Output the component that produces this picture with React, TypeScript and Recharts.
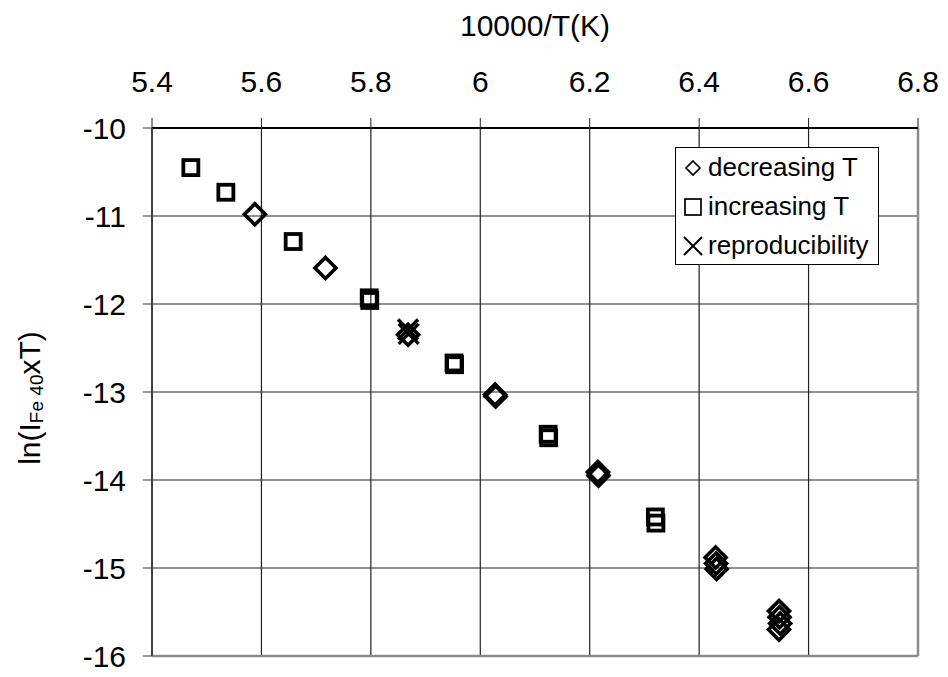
import { ScatterChart, Scatter, XAxis, YAxis, CartesianGrid, ReferenceLine, Legend, Label } from "recharts";

const font = "'Liberation Sans', Arial, sans-serif";

const xTicks = [5.4, 5.6, 5.8, 6, 6.2, 6.4, 6.6, 6.8];
const yTicks = [-16, -15, -14, -13, -12, -11, -10];

// decreasing T (diamonds)
const decreasing = [
  { x: 5.588, y: -10.98 },
  { x: 5.717, y: -11.59 },
  { x: 5.868, y: -12.35 },
  { x: 6.027, y: -13.03 },
  { x: 6.028, y: -13.05 },
  { x: 6.215, y: -13.91 },
  { x: 6.216, y: -13.95 },
  { x: 6.43, y: -14.88 },
  { x: 6.431, y: -14.95 },
  { x: 6.432, y: -15.01 },
  { x: 6.546, y: -15.49 },
  { x: 6.547, y: -15.56 },
  { x: 6.548, y: -15.63 },
  { x: 6.546, y: -15.7 },
];

// increasing T (squares)
const increasing = [
  { x: 5.471, y: -10.45 },
  { x: 5.535, y: -10.73 },
  { x: 5.658, y: -11.29 },
  { x: 5.797, y: -11.93 },
  { x: 5.798, y: -11.96 },
  { x: 5.952, y: -12.67 },
  { x: 5.953, y: -12.69 },
  { x: 6.124, y: -13.48 },
  { x: 6.125, y: -13.52 },
  { x: 6.32, y: -14.42 },
  { x: 6.321, y: -14.49 },
];

// reproducibility (crosses)
const repro = [
  { x: 5.868, y: -12.29 },
  { x: 5.869, y: -12.34 },
];

const legendItems = [
  { key: "d", label: "decreasing T" },
  { key: "s", label: "increasing T" },
  { key: "x", label: "reproducibility" },
];

function Diamond({ cx, cy }: any) {
  const r = 10.5;
  return (
    <polygon
      points={`${cx},${cy - r} ${cx + r},${cy} ${cx},${cy + r} ${cx - r},${cy}`}
      fill="none" stroke="#000" strokeWidth={3.6}
    />
  );
}

function Square({ cx, cy }: any) {
  const r = 7.5;
  return <rect x={cx - r} y={cy - r} width={2 * r} height={2 * r} fill="none" stroke="#000" strokeWidth={3.8} />;
}

function Cross({ cx, cy }: any) {
  const r = 10;
  return (
    <g stroke="#000" strokeWidth={3.4}>
      <line x1={cx - r} y1={cy - r} x2={cx + r} y2={cy + r} />
      <line x1={cx - r} y1={cy + r} x2={cx + r} y2={cy - r} />
    </g>
  );
}

function LegendIcon({ kind }: { kind: string }) {
  return (
    <svg width={22} height={22} style={{ display: "block" }}>
      {kind === "d" && <polygon points="11,4 18,11 11,18 4,11" fill="none" stroke="#000" strokeWidth={1.7} />}
      {kind === "s" && <rect x={3} y={3} width={16} height={16} fill="none" stroke="#000" strokeWidth={1.7} />}
      {kind === "x" && (
        <g stroke="#000" strokeWidth={1.9}>
          <line x1={2} y1={2} x2={20} y2={20} />
          <line x1={2} y1={20} x2={20} y2={2} />
        </g>
      )}
    </svg>
  );
}

function LegendBox() {
  return (
    <div
      style={{
        width: 202, height: 116, border: "1px solid #000", background: "#fff",
        fontFamily: font, fontSize: 26, color: "#000", boxSizing: "content-box",
      }}
    >
      {legendItems.map((it) => (
        <div key={it.key} style={{ display: "flex", alignItems: "center", height: 39, paddingLeft: 6 }}>
          <LegendIcon kind={it.key} />
          <span style={{ marginLeft: 4, lineHeight: "39px" }}>{it.label}</span>
        </div>
      ))}
    </div>
  );
}

function YTitle() {
  return (
    <text
      x={29} y={398} transform="rotate(-90, 29, 398)" textAnchor="middle" dominantBaseline="central"
      fontFamily={font} fontSize={30} fill="#000"
    >
      ln(I<tspan fontSize={19} dy={7}>Fe 40</tspan><tspan dy={-7}>xT)</tspan>
    </text>
  );
}

export default function App() {
  return (
    <div style={{ position: "absolute", left: 0, top: 0, background: "#fff" }}>
      <ScatterChart width={948} height={677} margin={{ top: 0, right: 30, bottom: 21, left: 0 }}>
        <CartesianGrid stroke="#222" strokeWidth={1.2} />
        <XAxis
          type="number" dataKey="x" orientation="top" height={128}
          domain={[5.4, 6.8]} ticks={xTicks} interval={0}
          tickSize={10} tickMargin={26}
          tick={{ fill: "#000", fontSize: 30, fontFamily: font }}
          tickLine={{ stroke: "#222" }}
          axisLine={{ stroke: "#000", strokeWidth: 2 }}
        >
          <Label value="10000/T(K)" position="insideTop" offset={15} fill="#000" fontSize={30} fontFamily={font} />
        </XAxis>
        <YAxis
          type="number" dataKey="y" width={152}
          domain={[-16, -10]} ticks={yTicks} interval={0}
          tickSize={9} tickMargin={17}
          tick={{ fill: "#000", fontSize: 30, fontFamily: font }}
          tickLine={{ stroke: "#333" }}
          axisLine={{ stroke: "#444", strokeWidth: 2 }}
          label={<YTitle />}
        />
        <ReferenceLine y={-16} stroke="#8c8c8c" strokeWidth={2.5} />
        <ReferenceLine x={6.8} stroke="#8c8c8c" strokeWidth={2.5} />
        <Scatter name="decreasing T" data={decreasing} shape={(p: any) => <Diamond {...p} />} isAnimationActive={false} />
        <Scatter name="increasing T" data={increasing} shape={(p: any) => <Square {...p} />} isAnimationActive={false} />
        <Scatter name="reproducibility" data={repro} shape={(p: any) => <Cross {...p} />} isAnimationActive={false} />
        <Legend
          layout="vertical" align="center" verticalAlign="middle"
          content={() => <LegendBox />}
          wrapperStyle={{ left: 675, top: 147, width: 204, height: 118 }}
        />
      </ScatterChart>
    </div>
  );
}
